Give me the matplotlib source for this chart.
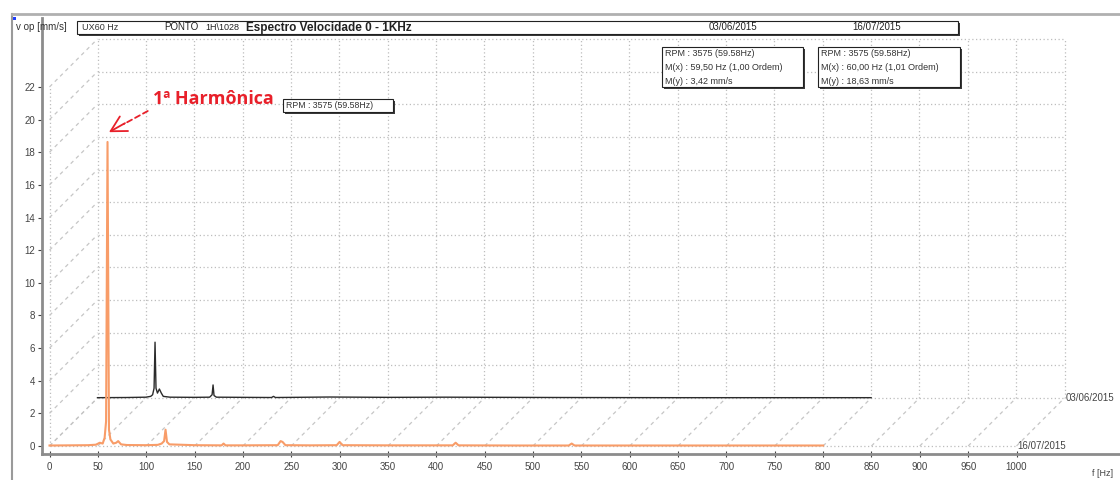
import matplotlib
matplotlib.use("Agg")
import matplotlib.pyplot as plt
from matplotlib.patches import Rectangle
from matplotlib.lines import Line2D
import numpy as np

plt.rcParams['font.family'] = ['Liberation Sans', 'DejaVu Sans']

# spectrum 16/07/2015 (front trace), velocity in mm/s
freq_0716 = [0, 20, 40, 48, 52, 55, 57, 58.5, 60, 61.5, 63, 66, 69, 71, 74, 80, 100,
             112, 116, 118.5, 120, 121.5, 124, 150, 178, 180, 182, 200, 236, 239,
             241, 244, 270, 297, 300, 303, 350, 417, 420, 423, 480, 537, 540, 543,
             600, 700, 800]
amp_0716 = [0.03, 0.04, 0.05, 0.08, 0.2, 0.15, 0.5, 1.5, 18.63, 1.0, 0.4, 0.15, 0.2,
            0.3, 0.1, 0.06, 0.05, 0.07, 0.15, 0.3, 1.0, 0.25, 0.1, 0.05, 0.04, 0.15,
            0.04, 0.04, 0.05, 0.3, 0.25, 0.05, 0.04, 0.05, 0.25, 0.05, 0.04, 0.04,
            0.2, 0.04, 0.03, 0.03, 0.15, 0.03, 0.03, 0.03, 0.03]

# spectrum 03/06/2015 (rear trace)
freq_0306 = [0, 30, 50, 55, 57, 58.5, 59.5, 60.5, 62, 64, 66, 68, 75, 100, 116, 118.5,
             119.5, 120.5, 123, 150, 180, 182, 184, 240, 300, 360, 420, 480, 600, 800]
amp_0306 = [0.02, 0.03, 0.05, 0.1, 0.2, 0.6, 3.42, 0.6, 0.3, 0.55, 0.3, 0.1, 0.05,
            0.04, 0.05, 0.2, 0.8, 0.15, 0.05, 0.04, 0.03, 0.1, 0.03, 0.06, 0.04, 0.05,
            0.04, 0.03, 0.02, 0.02]

dates = ['03/06/2015', '16/07/2015']
rpm_text = 'RPM : 3575 (59.58Hz)'

W, H = 1120, 480
fig = plt.figure(figsize=(W / 100, H / 100), dpi=100)
fig.patch.set_facecolor('white')


def fx(px):
    return px / W


def fy(py):
    return 1 - py / H


# plot scale: 0 Hz at x=49.5px, 0.967 px/Hz ; 0 mm/s at y=446px, 16.32 px per mm/s
X0, XS, Y0, YS = 49.5, 0.967, 446, 16.32
ax = fig.add_axes([fx(42), fy(454), fx(1120) - fx(42), fy(18) - fy(454)])
ax.set_xlim((42 - X0) / XS, (1120 - X0) / XS)
ax.set_ylim((Y0 - 454) / YS, (Y0 - 18) / YS)
ax.set_facecolor('none')
for s in ['top', 'right']:
    ax.spines[s].set_visible(False)
for s in ['left', 'bottom']:
    ax.spines[s].set_color('#8c8c8c')
    ax.spines[s].set_linewidth(2)

ax.set_yticks(range(0, 23, 2))
ax.set_xticks(range(0, 1001, 50))
ax.tick_params(axis='y', labelsize=7, colors='#444444', length=3, pad=2)
ax.tick_params(axis='x', labelsize=7, colors='#444444', length=5, direction='inout', pad=3)

# depth offset of the rear layer
DX, DY = 48 / XS, 48 / YS
dot = dict(color='#bdbdbd', lw=0.9, ls=(0, (1, 2)))
dash = dict(color='#c6c6c6', lw=0.9, ls=(0, (3, 3)))

# rear wall
for v in range(0, 23, 2):
    ax.plot([DX, 1000 + DX], [v + DY, v + DY], **dot)
for f in range(0, 1001, 50):
    ax.plot([f + DX, f + DX], [DY, 22 + DY], **dot)
# left wall and floor
ax.plot([0, 0], [0, 22], **dot)
for v in range(0, 23, 2):
    ax.plot([0, DX], [v, v + DY], **dash)
for f in range(0, 1001, 50):
    ax.plot([f, f + DX], [0, DY], **dash)
ax.plot([0, 1000], [0, 0], **dot)

# traces
ax.plot(np.array(freq_0306) + DX, np.array(amp_0306) + DY, color='#2b2b2b', lw=1.0)
ax.plot(freq_0716, amp_0716, color='#f89c68', lw=1.5)

ax.text(1000 + DX + 1, DY, dates[0], fontsize=7, color='#444444', va='center', ha='left')
ax.text(1001, 0, dates[1], fontsize=7, color='#444444', va='center', ha='left')
fig.text(fx(1092), fy(474), 'f [Hz]', fontsize=6.5, color='#444444', va='center')

# marker annotation on the first harmonic
red = '#e8202a'
i_pk = int(np.argmax(amp_0716))
tip = (freq_0716[i_pk] + 1.5, amp_0716[i_pk] + 0.6)
ax.annotate('', xy=tip, xytext=(16, 9), textcoords='offset pixels',
            arrowprops=dict(arrowstyle='->,head_length=1.1,head_width=0.6', color=red,
                            lw=1.3, shrinkA=0, shrinkB=0))
ax.annotate('1ª Harmônica', xy=tip, xytext=(44, 33), textcoords='offset pixels',
            fontsize=13, fontweight='bold', color=red, family=['Open Sans', 'DejaVu Sans'],
            ha='left', va='center',
            arrowprops=dict(arrowstyle='-', color=red, lw=1.3, ls=(0, (3, 2)),
                            relpos=(0, 0), shrinkA=2, shrinkB=12))


def box(x0, y0, x1, y1, lines, size=6.5, step=13.5):
    fig.add_artist(Rectangle((fx(x0 + 2), fy(y1 + 2)), fx(x1 - x0), fy(y0) - fy(y1),
                             transform=fig.transFigure, facecolor='#3a3a3a', edgecolor='none'))
    fig.add_artist(Rectangle((fx(x0), fy(y1)), fx(x1 - x0), fy(y0) - fy(y1),
                             transform=fig.transFigure, facecolor='white',
                             edgecolor='#222222', lw=0.8))
    for k, t in enumerate(lines):
        fig.text(fx(x0 + 3), fy(y0 + 7 + k * step), t, fontsize=size, color='#333333',
                 va='center')


# cursor readouts
i_b = int(np.argmax(amp_0306))
box(662, 47, 803, 87, [rpm_text,
                       'M(x) : %s Hz (1,00 Ordem)' % f'{freq_0306[i_b]:.2f}'.replace('.', ','),
                       'M(y) : %s mm/s' % f'{amp_0306[i_b]:.2f}'.replace('.', ',')])
box(818, 47, 960, 87, [rpm_text,
                       'M(x) : %s Hz (1,01 Ordem)' % f'{freq_0716[i_pk]:.2f}'.replace('.', ','),
                       'M(y) : %s mm/s' % f'{amp_0716[i_pk]:.2f}'.replace('.', ',')])
box(283, 99, 393, 112, [rpm_text], size=6.3)

# window frame and header
fig.add_artist(Line2D([fx(12), fx(12)], [fy(14), 0], color='#9a9a9a', lw=1.5))
fig.add_artist(Line2D([fx(12), 1], [fy(14), fy(14)], color='#b0b0b0', lw=2))
fig.add_artist(Rectangle((fx(12.5), fy(20)), fx(3.5), fy(17) - fy(20),
                         transform=fig.transFigure, facecolor='#1f3fff', edgecolor='none'))
fig.add_artist(Rectangle((fx(79), fy(36)), fx(881), fy(21) - fy(34),
                         transform=fig.transFigure, facecolor='#3a3a3a', edgecolor='none'))
fig.add_artist(Rectangle((fx(77), fy(34)), fx(881), fy(21) - fy(34),
                         transform=fig.transFigure, facecolor='white',
                         edgecolor='#222222', lw=0.8))
hy = fy(27.5)
fig.text(fx(16), hy, 'v op [mm/s]', fontsize=7, color='#333333', va='center')
fig.text(fx(82), hy, 'UX60 Hz', fontsize=6.5, color='#333333', va='center')
fig.text(fx(164), hy, 'PONTO', fontsize=7, color='#222222', va='center')
fig.text(fx(205), hy, '1H\\1028', fontsize=6.5, color='#222222', va='center')
fig.text(fx(246), hy, 'Espectro Velocidade 0 - 1KHz', fontsize=8.5, color='#222222',
         va='center', fontweight='semibold')
fig.text(fx(733), hy, dates[0], fontsize=7, color='#222222', va='center', ha='center')
fig.text(fx(877), hy, dates[1], fontsize=7, color='#222222', va='center', ha='center')

fig.savefig('out.png', dpi=100)
